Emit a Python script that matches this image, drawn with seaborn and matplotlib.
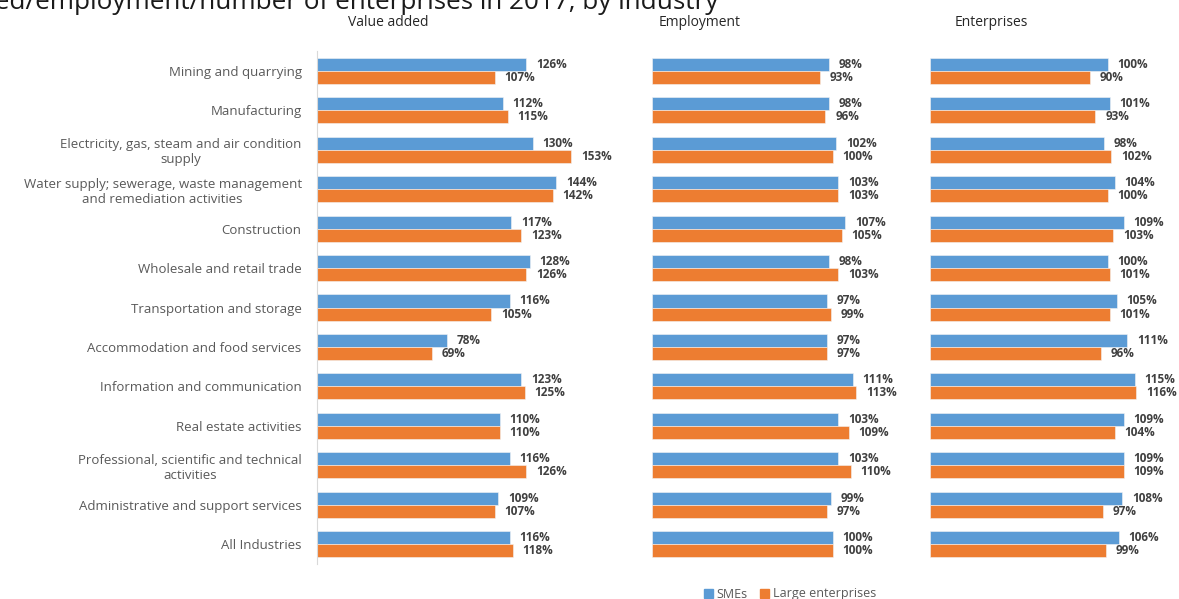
import pandas as pd
import seaborn as sns
import matplotlib.pyplot as plt
from matplotlib.patches import Patch

industries = ['Mining and quarrying', 'Manufacturing',
              'Electricity, gas, steam and air condition\nsupply',
              'Water supply; sewerage, waste management\nand remediation activities',
              'Construction', 'Wholesale and retail trade',
              'Transportation and storage', 'Accommodation and food services',
              'Information and communication', 'Real estate activities',
              'Professional, scientific and technical\nactivities',
              'Administrative and support services', 'All Industries']

va_sme = [126, 112, 130, 144, 117, 128, 116, 78, 123, 110, 116, 109, 116]
va_large = [107, 115, 153, 142, 123, 126, 105, 69, 125, 110, 126, 107, 118]
emp_sme = [98, 98, 102, 103, 107, 98, 97, 97, 111, 103, 103, 99, 100]
emp_large = [93, 96, 100, 103, 105, 103, 99, 97, 113, 109, 110, 97, 100]
ent_sme = [100, 101, 98, 104, 109, 100, 105, 111, 115, 109, 109, 108, 106]
ent_large = [90, 93, 102, 100, 103, 101, 101, 96, 116, 104, 109, 97, 99]

panels = ['Value added', 'Employment', 'Enterprises']
series = ['SMEs', 'Large enterprises']
colors = ['#5B9BD5', '#ED7D31']

W, H = 1179, 599
fig = plt.figure(figsize=(W / 100, H / 100), dpi=100)
sns.set_style('white')
plt.rcParams['font.family'] = ['Open Sans', 'DejaVu Sans']

# pixel boxes: left, right, xmax
boxes = [(317, 616, 180), (652, 905, 140), (930, 1179, 140)]
titles_x = [388, 700, 991]
data = [(va_sme, va_large), (emp_sme, emp_large), (ent_sme, ent_large)]
top, bottom = 51, 564

for i, (name, (l, r, xmax), (s, lg)) in enumerate(zip(panels, boxes, data)):
    ax = fig.add_axes([l / W, 1 - bottom / H, (r - l) / W, (bottom - top) / H])
    df = pd.DataFrame({'industry': industries * 2,
                       'value': s + lg,
                       'size': [series[0]] * len(s) + [series[1]] * len(lg)})
    sns.barplot(data=df, y='industry', x='value', hue='size', ax=ax,
                palette=colors, saturation=1, width=0.66, orient='h',
                legend=False, edgecolor='#f4f4f4', linewidth=0.4)
    for c in ax.containers:
        ax.bar_label(c, fmt='{:.0f}%', padding=7, fontsize=8.5,
                     fontweight='bold', color='#404040')
    ax.set_xlim(0, xmax)
    ax.set_ylim(12.5, -0.5)
    ax.set(xlabel='', ylabel='', xticks=[])
    sns.despine(ax=ax, top=True, right=True, bottom=True, left=(i > 0))
    if i == 0:
        ax.spines['left'].set_color('#D9D9D9')
        ax.tick_params(axis='y', length=0, pad=11, labelsize=9.5,
                       labelcolor='#595959')
        for t in ax.get_yticklabels():
            t.set_multialignment('center')
    else:
        ax.set_yticks([])
    fig.text(titles_x[i] / W, 1 - 23 / H, name, ha='center', va='center',
             fontsize=10, color='#262626')

fig.text(718 / W, 1 - 9 / H,
         'Growth of value added/employment/number of enterprises in 2017, by industry',
         ha='right', va='baseline', fontsize=18.8, color='#1a1a1a')

handles = [Patch(color=c, label=n) for c, n in zip(colors, series)]
fig.legend(handles=handles, loc='center', bbox_to_anchor=(790 / W, 1 - 594 / H),
           ncol=2, frameon=False, handlelength=0.7, handleheight=0.7,
           handletextpad=0.3, columnspacing=1.0, fontsize=9,
           labelcolor='#595959')

fig.savefig('out.png', dpi=100)
